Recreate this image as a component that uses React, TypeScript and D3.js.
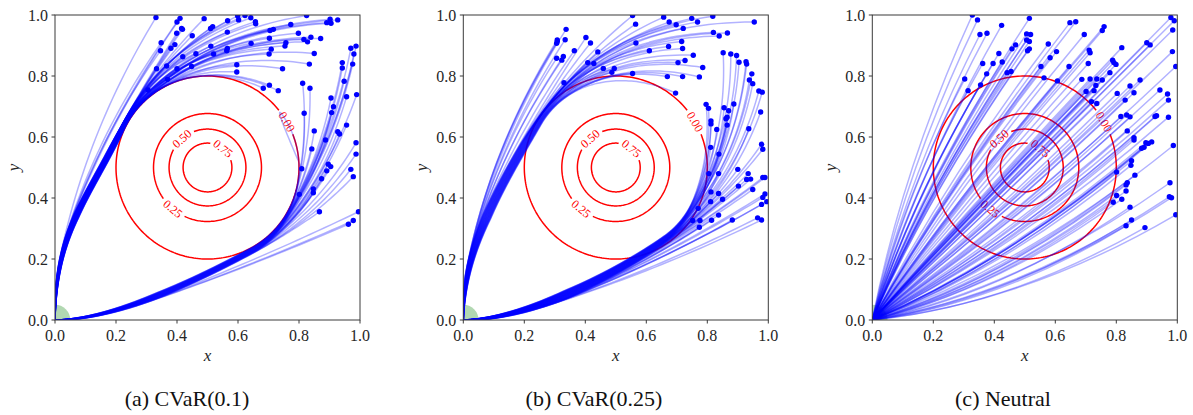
import React from 'react';
import * as d3 from 'd3';

type P = [number, number];

// ---------- data ----------
const TICK_VALUES = [0, 0.2, 0.4, 0.6, 0.8, 1.0];
const TICK_LABELS = ['0.0', '0.2', '0.4', '0.6', '0.8', '1.0'];
const CONTOUR_LEVELS = ['0.00', '0.25', '0.50', '0.75'];
const CONTOUR_RADII = [0.3, 0.177, 0.126, 0.08];
const CONTOUR_LABEL_ANGLES = [30, 230, 131.5, 50.5];
const CAPTIONS = ['(a) CVaR(0.1)', '(b) CVaR(0.25)', '(c) Neutral'];

// panel (a): trajectories that pass above the circle
const A_UPPER: P[] = [
  [0.331, 0.992], [0.348, 0.909], [0.346, 0.883], [0.333, 0.824], [0.305, 0.754], [0.369, 0.789],
  [0.366, 0.833], [0.38, 0.891], [0.393, 0.903], [0.399, 0.94], [0.415, 0.956], [0.418, 0.953],
  [0.41, 0.989], [0.4, 0.977], [0.4, 0.824], [0.419, 0.863], [0.448, 0.831], [0.45, 0.932],
  [0.462, 0.873], [0.489, 0.988], [0.511, 0.898], [0.51, 0.956], [0.517, 0.962], [0.52, 0.872],
  [0.563, 0.883], [0.565, 0.89], [0.565, 0.944], [0.566, 0.981], [0.599, 0.997], [0.602, 0.984],
  [0.623, 0.998], [0.642, 0.991], [0.657, 0.978], [0.658, 0.971], [0.596, 0.837], [0.596, 0.813],
  [0.643, 0.907], [0.683, 0.76], [0.703, 0.77], [0.732, 0.752], [0.702, 0.872], [0.703, 0.924],
  [0.705, 0.949], [0.716, 0.953], [0.709, 0.888], [0.746, 0.824], [0.754, 0.898], [0.757, 0.909],
  [0.773, 0.969], [0.798, 0.94], [0.816, 0.92], [0.825, 0.998], [0.828, 0.912], [0.839, 0.927],
  [0.85, 0.874], [0.834, 0.839], [0.871, 0.923], [0.891, 0.975], [0.902, 0.986], [0.905, 0.973],
  [0.927, 0.984],
];
// panel (a): trajectories that pass below / right of the circle
const A_LOWER: P[] = [
  [0.97, 0.891], [0.987, 0.898], [0.98, 0.872], [0.942, 0.844], [0.976, 0.839], [0.942, 0.826],
  [0.948, 0.783], [0.905, 0.728], [0.956, 0.732], [0.989, 0.739], [0.913, 0.699], [0.907, 0.68],
  [0.85, 0.62], [0.956, 0.639], [0.927, 0.617], [0.933, 0.61], [0.812, 0.776], [0.836, 0.76],
  [0.817, 0.678], [0.887, 0.59], [0.987, 0.581], [0.987, 0.544], [0.842, 0.561], [0.809, 0.496],
  [0.896, 0.511], [0.904, 0.503], [0.891, 0.489], [0.97, 0.494], [0.978, 0.47], [0.874, 0.463],
  [0.847, 0.43], [0.847, 0.417], [0.801, 0.412], [0.867, 0.355], [0.995, 0.355], [0.978, 0.326],
  [0.962, 0.314],
];
// panel (b)
const B_UPPER: P[] = [
  [0.337, 0.953], [0.308, 0.918], [0.308, 0.913], [0.306, 0.907], [0.334, 0.919], [0.306, 0.858],
  [0.33, 0.778], [0.323, 0.852], [0.328, 0.864], [0.364, 0.883], [0.402, 0.926], [0.417, 0.908],
  [0.441, 0.879], [0.408, 0.844], [0.428, 0.841], [0.459, 0.825], [0.487, 0.812], [0.495, 0.825],
  [0.555, 0.998], [0.565, 0.97], [0.566, 0.908], [0.555, 0.808], [0.61, 0.883], [0.657, 0.993],
  [0.675, 0.977], [0.698, 0.968], [0.721, 0.956], [0.749, 0.989], [0.768, 0.977], [0.818, 0.996],
  [0.954, 0.977], [0.82, 0.943], [0.839, 0.931], [0.866, 0.941], [0.716, 0.913], [0.673, 0.897],
  [0.719, 0.89], [0.704, 0.844], [0.727, 0.851], [0.754, 0.868], [0.785, 0.828], [0.669, 0.798],
  [0.719, 0.798], [0.774, 0.797], [0.696, 0.744],
];
const B_LOWER: P[] = [
  [0.852, 0.876], [0.877, 0.872], [0.896, 0.867], [0.904, 0.845], [0.927, 0.847], [0.929, 0.839],
  [0.946, 0.807], [0.938, 0.787], [0.949, 0.775], [0.969, 0.751], [0.98, 0.747], [0.975, 0.682],
  [0.936, 0.627], [0.796, 0.707], [0.804, 0.694], [0.855, 0.696], [0.87, 0.686], [0.887, 0.708],
  [0.812, 0.653], [0.812, 0.643], [0.831, 0.625], [0.861, 0.66], [0.865, 0.665], [0.865, 0.639],
  [0.811, 0.566], [0.838, 0.544], [0.978, 0.576], [0.982, 0.56], [0.805, 0.48], [0.837, 0.48],
  [0.9, 0.494], [0.934, 0.48], [0.929, 0.461], [0.942, 0.462], [0.982, 0.467], [0.989, 0.467],
  [0.812, 0.42], [0.837, 0.415], [0.902, 0.439], [0.949, 0.428], [0.811, 0.388], [0.85, 0.396],
  [0.989, 0.413], [0.982, 0.402], [0.995, 0.388], [0.978, 0.379], [0.77, 0.366], [0.837, 0.344],
  [0.752, 0.326], [0.776, 0.326], [0.774, 0.304], [0.814, 0.327], [0.882, 0.328], [0.965, 0.335],
  [0.978, 0.328],
];
// panel (c)
const C_ENDS: P[] = [
  [0.328, 1.0], [0.345, 0.984], [0.353, 0.936], [0.376, 0.94], [0.424, 0.966], [0.515, 0.989],
  [0.506, 0.938], [0.519, 0.936], [0.506, 0.918], [0.515, 0.913], [0.509, 0.883], [0.515, 0.889],
  [0.47, 0.902], [0.458, 0.889], [0.415, 0.874], [0.426, 0.846], [0.396, 0.841], [0.362, 0.841],
  [0.375, 0.807], [0.442, 0.811], [0.455, 0.815], [0.303, 0.79], [0.314, 0.752], [0.355, 0.771],
  [0.648, 0.975], [0.667, 0.978], [0.695, 0.936], [0.754, 0.949], [0.76, 0.962], [0.577, 0.905],
  [0.604, 0.88], [0.583, 0.86], [0.553, 0.831], [0.645, 0.831], [0.563, 0.794], [0.607, 0.784],
  [0.711, 0.885], [0.714, 0.876], [0.708, 0.841], [0.687, 0.789], [0.714, 0.79], [0.736, 0.79],
  [0.754, 0.787], [0.733, 0.769], [0.701, 0.749], [0.727, 0.752], [0.719, 0.716], [0.736, 0.71],
  [0.779, 0.811], [0.788, 0.852], [0.792, 0.844], [0.799, 0.838], [0.818, 0.893], [0.803, 0.743],
  [0.829, 0.721], [0.845, 0.767], [0.858, 0.745], [0.878, 0.787], [0.815, 0.667], [0.834, 0.672],
  [0.845, 0.666], [0.836, 0.62], [0.858, 0.598], [0.9, 0.909], [0.911, 0.902], [0.943, 0.754],
  [0.968, 0.741], [0.971, 0.721], [0.927, 0.667], [0.932, 0.67], [0.971, 0.665], [0.979, 0.992],
  [0.99, 0.981], [0.985, 0.951], [0.984, 0.88], [0.995, 0.831], [0.858, 0.59], [0.897, 0.581],
  [0.905, 0.579], [0.916, 0.584], [0.883, 0.563], [0.891, 0.566], [0.987, 0.572], [0.85, 0.522],
  [0.848, 0.507], [0.801, 0.485], [0.861, 0.475], [0.801, 0.408], [0.79, 0.386], [0.818, 0.396],
  [0.832, 0.443], [0.836, 0.45], [0.832, 0.423], [0.845, 0.37], [0.85, 0.328], [0.832, 0.309],
  [0.894, 0.303], [0.976, 0.45], [0.974, 0.404], [0.981, 0.401], [0.995, 0.345],
];

// ---------- layout ----------
const W = 1193;
const H = 415;
const PANEL_X = [55, 463.3, 872.3];
const TOP = 15;
const SIZE = 305;
const CAPTION_X = [187, 594, 1003];
const SERIF = "'Liberation Serif', 'DejaVu Serif', serif";
const LINE_COLOR = 'rgba(0,0,255,0.3)';

type Spine = { pts: P[]; tan: P[]; s: number[] };

function buildSpine(kind: 'up' | 'low', r: number, th0deg: number, p1: P, L: number, thEndDeg: number): Spine {
  const th0 = (th0deg * Math.PI) / 180;
  const Q: P = [0.5 + r * Math.cos(th0), 0.5 + r * Math.sin(th0)];
  const T: P = kind === 'up' ? [Math.sin(th0), -Math.cos(th0)] : [-Math.sin(th0), Math.cos(th0)];
  const p2: P = [Q[0] - L * T[0], Q[1] - L * T[1]];
  const pts: P[] = [];
  const n = 80;
  for (let i = 0; i <= n; i++) {
    const t = i / n;
    const b = 3 * (1 - t) ** 2 * t, c = 3 * (1 - t) * t * t, d = t ** 3;
    pts.push([b * p1[0] + c * p2[0] + d * Q[0], b * p1[1] + c * p2[1] + d * Q[1]]);
  }
  const step = kind === 'up' ? -1 : 1;
  for (let k = 1; ; k++) {
    const deg = th0deg + step * k;
    if ((kind === 'up' && deg < thEndDeg) || (kind === 'low' && deg > thEndDeg)) break;
    const a = (deg * Math.PI) / 180;
    pts.push([0.5 + r * Math.cos(a), 0.5 + r * Math.sin(a)]);
  }
  const tan: P[] = pts.map((_, i) => {
    const a = pts[Math.max(0, i - 1)];
    const b = pts[Math.min(pts.length - 1, i + 1)];
    const dx = b[0] - a[0], dy = b[1] - a[1];
    const l = Math.hypot(dx, dy) || 1;
    return [dx / l, dy / l];
  });
  const s: number[] = [0];
  for (let i = 1; i < pts.length; i++) s.push(s[i - 1] + Math.hypot(pts[i][0] - pts[i - 1][0], pts[i][1] - pts[i - 1][1]));
  return { pts, tan, s };
}

function bundlePaths(kind: 'up' | 'low', spine: Spine, ends: P[], width: number, backoff: number): P[][] {
  const dep = ends.map((E) => {
    let idx = spine.pts.length - 1;
    for (let i = 0; i < spine.pts.length; i++) {
      const S = spine.pts[i], T = spine.tan[i];
      const cr = T[0] * (E[1] - S[1]) - T[1] * (E[0] - S[0]);
      if ((kind === 'up' && cr >= 0) || (kind === 'low' && cr <= 0)) { idx = i; break; }
    }
    // leave the spine a little earlier and bend smoothly toward the end point
    const target = spine.s[idx] - backoff;
    let j = idx;
    while (j > 0 && spine.s[j] > target) j--;
    return j;
  });
  const order = d3.range(ends.length).sort((a, b) => dep[a] - dep[b]);
  const rank: number[] = new Array(ends.length);
  order.forEach((o, r) => (rank[o] = r));
  const N = Math.max(1, ends.length - 1);
  return ends.map((E, k) => {
    const off = width * (0.5 - rank[k] / N);
    const out: P[] = [];
    let last: P = [0, 0];
    let lastT: P = [0, 1];
    for (let i = 0; i <= dep[k]; i++) {
      const S = spine.pts[i], T = spine.tan[i];
      const nrm: P = kind === 'up' ? [-T[1], T[0]] : [T[1], -T[0]];
      const taper = Math.min(1, spine.s[i] / 0.35);
      last = [S[0] + off * taper * nrm[0], S[1] + off * taper * nrm[1]];
      lastT = T;
      out.push(last);
    }
    const dist = Math.hypot(E[0] - last[0], E[1] - last[1]);
    const C: P = [last[0] + lastT[0] * dist * 0.5, last[1] + lastT[1] * dist * 0.5];
    const m = 30;
    for (let q = 1; q <= m; q++) {
      const t = q / m;
      out.push([
        (1 - t) * (1 - t) * last[0] + 2 * (1 - t) * t * C[0] + t * t * E[0],
        (1 - t) * (1 - t) * last[1] + 2 * (1 - t) * t * C[1] + t * t * E[1],
      ]);
    }
    return out;
  });
}

const xs = d3.scaleLinear().domain([0, 1]).range([0, SIZE]);
const ys = d3.scaleLinear().domain([0, 1]).range([SIZE, 0]);
const lineGen = d3.line<P>().x((d) => xs(d[0])).y((d) => ys(d[1])).curve(d3.curveLinear);

function neutralPath(E: P): string {
  const th = Math.atan2(E[1], E[0]);
  const diff = (th - Math.PI / 4) / (Math.PI / 4);
  let cx = 0.5 * E[0], cy = 0.5 * E[1];
  if (diff > 0) cx *= 1 - 0.66 * diff;
  else cy *= 1 - 1.2 * -diff;
  const p = d3.path();
  p.moveTo(xs(0), ys(0));
  p.quadraticCurveTo(xs(cx), ys(cy), xs(E[0]), ys(E[1]));
  return p.toString();
}

function Contours() {
  return (
    <g>
      {CONTOUR_LEVELS.map((lab, i) => {
        const r = CONTOUR_RADII[i];
        const thL = (CONTOUR_LABEL_ANGLES[i] * Math.PI) / 180;
        const rPx = xs(r) - xs(0);
        const gap = 14 / rPx;
        const pts: P[] = [];
        const n = 240;
        for (let k = 0; k <= n; k++) {
          const a = thL + gap + (k / n) * (2 * Math.PI - 2 * gap);
          pts.push([0.5 + r * Math.cos(a), 0.5 + r * Math.sin(a)]);
        }
        let rot = -(CONTOUR_LABEL_ANGLES[i] - 90);
        while (rot > 90) rot -= 180;
        while (rot < -90) rot += 180;
        const lx = xs(0.5 + r * Math.cos(thL));
        const ly = ys(0.5 + r * Math.sin(thL));
        return (
          <g key={lab}>
            <path d={lineGen(pts) || ''} fill="none" stroke="#ff0000" strokeWidth={1.5} />
            <text
              x={lx}
              y={ly}
              transform={`rotate(${rot},${lx},${ly})`}
              textAnchor="middle"
              dominantBaseline="central"
              fontFamily={SERIF}
              fontSize={12}
              fill="#ff0000"
            >
              {lab}
            </text>
          </g>
        );
      })}
    </g>
  );
}

function Panel({ idx, paths, ends, neutral }: { idx: number; paths?: P[][]; ends: P[]; neutral?: boolean }) {
  const clipId = `clip${idx}`;
  return (
    <g transform={`translate(${PANEL_X[idx]},${TOP})`}>
      <defs>
        <clipPath id={clipId}>
          <rect x={0} y={0} width={SIZE} height={SIZE} />
        </clipPath>
      </defs>
      <g clipPath={`url(#${clipId})`}>
        <circle cx={xs(0)} cy={ys(0)} r={xs(0.05) - xs(0)} fill="#b2d8b2" />
        <Contours />
        {neutral
          ? ends.map((E, k) => <path key={k} d={neutralPath(E)} fill="none" stroke={LINE_COLOR} strokeWidth={1.5} />)
          : (paths || []).map((pp, k) => (
              <path key={k} d={lineGen(pp) || ''} fill="none" stroke={LINE_COLOR} strokeWidth={1.5} strokeLinejoin="round" />
            ))}
        {ends.map((E, k) => (
          <circle key={`d${k}`} cx={xs(E[0])} cy={ys(E[1])} r={2.7} fill="#0000ff" />
        ))}
      </g>
      <rect x={0} y={0} width={SIZE} height={SIZE} fill="none" stroke="#3a3a3a" strokeWidth={1} />
      {TICK_VALUES.map((v, i) => (
        <g key={`x${i}`}>
          <line x1={xs(v)} x2={xs(v)} y1={SIZE} y2={SIZE + 3.5} stroke="#3a3a3a" strokeWidth={1} />
          <text x={xs(v)} y={SIZE + 21} textAnchor="middle" fontFamily={SERIF} fontSize={16} fill="#262626">
            {TICK_LABELS[i]}
          </text>
          <line x1={-3.5} x2={0} y1={ys(v)} y2={ys(v)} stroke="#3a3a3a" strokeWidth={1} />
          <text x={-7} y={ys(v)} textAnchor="end" dominantBaseline="central" fontFamily={SERIF} fontSize={16} fill="#262626">
            {TICK_LABELS[i]}
          </text>
        </g>
      ))}
      <text x={SIZE / 2} y={SIZE + 41} textAnchor="middle" fontFamily={SERIF} fontStyle="italic" fontSize={17} fill="#262626">
        x
      </text>
      <text
        x={-42}
        y={SIZE / 2}
        transform={`rotate(-90,${-42},${SIZE / 2})`}
        textAnchor="middle"
        dominantBaseline="central"
        fontFamily={SERIF}
        fontStyle="italic"
        fontSize={17}
        fill="#262626"
      >
        y
      </text>
    </g>
  );
}

export default function App() {
  const aUpSpine = buildSpine('up', 0.31, 155, [0, 0.3], 0.25, 5);
  const aLowSpine = buildSpine('low', 0.31, -62, [0.2, 0], 0.2, 45);
  const bUpSpine = buildSpine('up', 0.3, 150, [0, 0.25], 0.25, 5);
  const bLowSpine = buildSpine('low', 0.29, -55, [0.2, 0], 0.22, 45);
  const aPaths = [
    ...bundlePaths('up', aUpSpine, A_UPPER, 0.02, 0.14),
    ...bundlePaths('low', aLowSpine, A_LOWER, 0.02, 0.06),
  ];
  const bPaths = [
    ...bundlePaths('up', bUpSpine, B_UPPER, 0.035, 0.18),
    ...bundlePaths('low', bLowSpine, B_LOWER, 0.03, 0.1),
  ];
  return (
    <svg width={W} height={H} style={{ position: 'absolute', left: 0, top: 0, background: '#fff' }}>
      <rect x={0} y={0} width={W} height={H} fill="#fff" />
      <Panel idx={0} paths={aPaths} ends={[...A_UPPER, ...A_LOWER]} />
      <Panel idx={1} paths={bPaths} ends={[...B_UPPER, ...B_LOWER]} />
      <Panel idx={2} ends={C_ENDS} neutral />
      {CAPTIONS.map((c, i) => (
        <text key={c} x={CAPTION_X[i]} y={406} textAnchor="middle" fontFamily={SERIF} fontSize={22} fill="#111">
          {c}
        </text>
      ))}
    </svg>
  );
}
